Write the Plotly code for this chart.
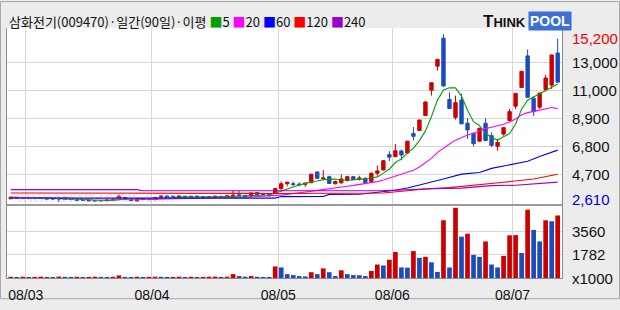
import plotly.graph_objects as go
import pandas as pd

# ---------------- data ----------------
opens = [2860, 2960, 2900, 2950, 2920, 2950, 2960, 2880, 2870, 2830,
         2900, 2880, 2780, 2700, 2740, 2720, 2710, 2760, 2790, 2960,
         2880, 2700, 2880, 2860, 2790, 2900, 3070, 3050, 2990, 3050,
         3000, 3060, 3010, 2980, 2960, 3050, 3000, 3050, 3160, 3120,
         3060, 3338, 3200, 3200, 3266, 3627, 3988, 3988, 3960, 3940,
         4060, 4878, 4373, 4517, 3988, 4060, 4228, 4517, 4325, 4397,
         4156, 4781, 5022, 6176, 6032, 6441, 6297, 7764, 7980, 9110,
         11011, 12814, 14907, 10313, 8966, 10265, 8533, 7764, 7187, 8533,
         7595, 6802, 7716, 8726, 9808, 11203, 13584, 10409, 9736, 11058,
         11395, 13800]
highs = [3000, 2980, 2990, 2970, 2980, 2970, 2980, 2900, 3000, 2970,
         2920, 2900, 2800, 2790, 2760, 2740, 2780, 2830, 3190, 2980,
         2920, 2880, 2900, 2880, 2970, 3090, 3090, 3080, 3090, 3070,
         3060, 3080, 3030, 3030, 3080, 3070, 3100, 3500, 3450, 3150,
         3310, 3360, 3220, 3220, 3650, 4156, 4130, 4156, 4108, 4060,
         4730, 4880, 5022, 4589, 4230, 4709, 4589, 4530, 4589, 4469,
         4829, 5359, 5768, 6441, 6970, 6561, 7187, 8245, 8774, 10169,
         11612, 13367, 15200, 10842, 10602, 10746, 8918, 7836, 8197, 8894,
         7836, 7355, 8197, 9592, 10794, 12429, 14065, 10554, 10794, 12165,
         13656, 14882]
lows = [2850, 2880, 2880, 2900, 2900, 2880, 2820, 2820, 2610, 2800,
        2780, 2720, 2740, 2680, 2690, 2690, 2700, 2750, 2780, 2870,
        2700, 2660, 2780, 2790, 2780, 2890, 2910, 2960, 2970, 2990,
        2990, 2990, 2970, 2970, 2950, 2990, 2990, 3040, 3060, 2990,
        3010, 3150, 3170, 3060, 3250, 3459, 3795, 3795, 3795, 3750,
        4040, 4349, 4325, 4000, 3940, 3988, 4156, 4280, 4228, 4036,
        4108, 4589, 4998, 5672, 5960, 5744, 6224, 7235, 7956, 9086,
        10602, 12478, 11275, 9616, 8798, 8461, 7355, 6802, 7139, 7187,
        6754, 6465, 7595, 8678, 9592, 11179, 10482, 9062, 9592, 10914,
        11083, 11612]
closes = [2980, 2900, 2960, 2920, 2950, 2900, 2830, 2850, 2860, 2950,
          2800, 2740, 2760, 2740, 2700, 2710, 2760, 2800, 3030, 2890,
          2720, 2860, 2800, 2800, 2950, 3070, 2920, 2980, 3060, 3000,
          3040, 3000, 2980, 3010, 3060, 3000, 3080, 3120, 3080, 3000,
          3300, 3170, 3190, 3080, 3627, 3988, 4108, 3940, 3915, 4036,
          4709, 4397, 4421, 4012, 4156, 4349, 4517, 4301, 4421, 4060,
          4781, 4950, 5719, 5984, 6465, 6152, 7187, 7547, 8774, 10121,
          11564, 13319, 11323, 9640, 10073, 8485, 8028, 6994, 8149, 7235,
          6874, 7090, 8197, 9399, 10770, 12429, 10482, 9399, 10794, 11924,
          13656, 11612]
volumes = [95, 80, 100, 85, 90, 105, 80, 75, 110, 90,
           85, 95, 80, 85, 100, 90, 80, 95, 200, 90,
           85, 100, 80, 90, 100, 95, 80, 85, 100, 80,
           95, 85, 90, 100, 110, 90, 100, 297, 148, 100,
           148, 95, 85, 80, 891, 817, 297, 223, 148, 124,
           445, 297, 742, 445, 148, 594, 297, 223, 210, 148,
           545, 1040, 965, 1411, 2005, 817, 800, 2079, 1559, 1634,
           1213, 470, 4455, 817, 5420, 3193, 3416, 1782, 1634, 2822,
           1040, 817, 1708, 3292, 3310, 1931, 5272, 3713, 2822, 4455,
           4381, 4826]

# long moving averages (day index -> value)
ma60_days = [0, 44, 45, 52, 53, 58, 60, 62, 64, 66, 69, 72, 75, 78, 80, 83, 86, 88, 91]
ma60_vals = [2920, 2910, 3026, 3030, 3190, 3200, 3300, 3390, 3500, 3675, 3988, 4349,
             4709, 4829, 5142, 5431, 5671, 6032, 6513]
ma120_days = [0, 21, 44, 62, 65, 69, 73, 77, 82, 87, 91]
ma120_vals = [3300, 3270, 3260, 3300, 3440, 3600, 3700, 3860, 4100, 4340, 4700]
ma240_days = [0, 21, 22, 62, 66, 70, 75, 80, 84, 88, 91]
ma240_vals = [3550, 3550, 3460, 3470, 3540, 3620, 3660, 3850, 3880, 3990, 4110]

ma_periods = [5, 20, 60, 120, 240]
month_start_days = [3, 24, 45, 64, 84]
month_labels = ["08/03", "08/04", "08/05", "08/06", "08/07"]

price_max = 15200
price_min = 2610
price_labels = ["15,200", "13,000", "11,000", "8,900", "6,800", "4,700", "2,610"]
vol_label_vals = [3560, 1782, 0]
vol_labels = ["3560", "1782", "x1000"]

title_text = "삼화전기(009470)·일간(90일)·이평"

n = len(closes)
assert len(opens) == len(highs) == len(lows) == len(volumes) == n
days = list(range(n))

# ---------------- styles / geometry ----------------
W, H = 620, 310
ML, MR, MT, MB = 7, 58, 28, 22
PW, PH = W - ML - MR, H - MT - MB
SEP_Y = 212  # pixel y of price/volume separator

def pxx(x):
    return (x - ML) / PW

def pxy(y):
    return (H - MB - y) / PH

RED = "#cc0000"
BLUE = "#1c4cbc"
MA_COLORS = ["#00a000", "#ff00ff", "#0000ff", "#ff0000", "#9900cc"]
GRID = "#d6d6d6"
BORDER = "#8c8c8c"
NUM_FONT = "Liberation Sans Narrow, Arial Narrow, Liberation Sans, sans-serif"
KR_FONT = "Noto Sans CJK KR, Noto Sans, sans-serif"

close_s = pd.Series(closes, dtype=float)
ma5 = close_s.rolling(ma_periods[0], min_periods=1).mean()
ma20 = close_s.rolling(ma_periods[1], min_periods=1).mean()

vol_colors = [RED if i == 0 or volumes[i] >= volumes[i - 1] else BLUE for i in range(n)]

fig = go.Figure()

fig.add_trace(go.Bar(x=days, y=volumes, marker=dict(color=vol_colors, line=dict(width=0)),
                     width=0.78, xaxis="x2", yaxis="y2", showlegend=False))

fig.add_trace(go.Candlestick(
    x=days, open=opens, high=highs, low=lows, close=closes,
    increasing=dict(line=dict(color=RED, width=1), fillcolor=RED),
    decreasing=dict(line=dict(color=BLUE, width=1), fillcolor=BLUE),
    whiskerwidth=0, xaxis="x", yaxis="y", showlegend=False))

ma_series = [
    (days, list(ma5)),
    (days, list(ma20)),
    (ma60_days, ma60_vals),
    (ma120_days, ma120_vals),
    (ma240_days, ma240_vals),
]
for (xs, ys), col in zip(ma_series, MA_COLORS):
    fig.add_trace(go.Scatter(x=xs, y=ys, mode="lines", line=dict(color=col, width=1.1),
                             xaxis="x", yaxis="y", showlegend=False, hoverinfo="skip"))

step = (price_max - price_min) / (len(price_labels) - 1)
price_levels = [price_max - k * step for k in range(len(price_labels))]

xr = [-0.62, n - 1 + 0.72]
tickpos = [d - 0.5 for d in month_start_days]
sep_dom = pxy(SEP_Y)
vol_top = 5640

fig.update_layout(
    width=W, height=H,
    margin=dict(l=ML, r=MR, t=MT, b=MB),
    paper_bgcolor="#ececec", plot_bgcolor="white",
    boxgap=0.2, bargap=0.2,
    xaxis=dict(domain=[0, 1], anchor="y", range=xr, tickvals=tickpos, ticktext=month_labels,
               showticklabels=False, showgrid=True, gridcolor=GRID, gridwidth=1,
               zeroline=False, showline=False, rangeslider=dict(visible=False), fixedrange=True),
    yaxis=dict(domain=[sep_dom, 1], anchor="x", range=[2400, 15676],
               tickvals=price_levels[1:-1], showticklabels=False, showgrid=True,
               gridcolor=GRID, gridwidth=1, zeroline=False,
               showline=True, mirror=True, linecolor=BORDER, linewidth=1),
    xaxis2=dict(domain=[0, 1], anchor="y2", matches="x", range=xr, tickvals=tickpos,
                ticktext=month_labels, showgrid=True, gridcolor=GRID, gridwidth=1,
                zeroline=False, showline=True, mirror=True, linecolor=BORDER, linewidth=1,
                ticks="", ticklabelstandoff=4,
                tickfont=dict(family="Liberation Sans, sans-serif", size=14, color="#111")),
    yaxis2=dict(domain=[0, sep_dom], anchor="x2", range=[0, vol_top],
                tickvals=vol_label_vals[:2], showticklabels=False, showgrid=True,
                gridcolor=GRID, gridwidth=1, zeroline=False,
                showline=True, mirror=True, linecolor=BORDER, linewidth=1),
)

ann = []
# price labels on the right
for k, (lab, lev) in enumerate(zip(price_labels, price_levels)):
    col = "#ee0000" if k == 0 else ("#0000cc" if k == len(price_labels) - 1 else "#111")
    shift = -4 if k == 0 else (3 if k == len(price_labels) - 1 else 0)
    ann.append(dict(x=pxx(570), xref="paper", y=lev, yref="y", text=lab, showarrow=False,
                    xanchor="left", yanchor="middle", yshift=shift,
                    font=dict(family=NUM_FONT, size=15, color=col)))
# volume labels
for lab, v in zip(vol_labels, vol_label_vals):
    ann.append(dict(x=pxx(570), xref="paper", y=v, yref="y2", text=lab, showarrow=False,
                    xanchor="left", yanchor="middle",
                    font=dict(family=NUM_FONT, size=15, color="#111")))

# title with MA legend
legend_html = "".join(
    f" <span style='color:{c}'>■</span>{p}" for p, c in zip(ma_periods, MA_COLORS))
ann.append(dict(x=pxx(7), xref="paper", y=pxy(21), yref="paper", text=title_text + legend_html,
                showarrow=False, xanchor="left", yanchor="middle",
                font=dict(family=KR_FONT, size=13, color="#111")))

# ThinkPool logo
ann.append(dict(x=pxx(481), xref="paper", y=pxy(21), yref="paper",
                text="<b>T<span style='font-size:13px'>HINK</span></b>", showarrow=False,
                xanchor="left", yanchor="middle",
                font=dict(family="Liberation Sans, sans-serif", size=17, color="#111")))
ann.append(dict(x=pxx(528), xref="paper", y=pxy(21), yref="paper",
                text="<b>POOL</b>", showarrow=False, xanchor="left", yanchor="middle",
                bgcolor="#3d6fd6", borderpad=1,
                font=dict(family="Liberation Sans, sans-serif", size=14, color="white")))

# faint watermark
ann.append(dict(x=pxx(95), xref="paper", y=pxy(203), yref="paper",
                text="www.<b>THINKPOOL</b>.com", showarrow=False, xanchor="center",
                yanchor="middle",
                font=dict(family="Liberation Sans, sans-serif", size=15,
                          color="rgba(170,170,170,0.30)")))

fig.update_layout(annotations=ann)

# price / volume separator (slightly heavier line)
fig.add_shape(type="line", xref="paper", yref="paper", x0=0, x1=1, y0=sep_dom, y1=sep_dom,
              line=dict(color="#9a9a9a", width=2))

# outer frame of the image
fig.add_shape(type="rect", xref="paper", yref="paper",
              x0=pxx(0.5), x1=pxx(W - 0.5), y0=pxy(H - 0.5), y1=pxy(0.5),
              line=dict(color="#a8a8a8", width=1), fillcolor="rgba(0,0,0,0)", layer="below")

fig.write_html("out.html")
